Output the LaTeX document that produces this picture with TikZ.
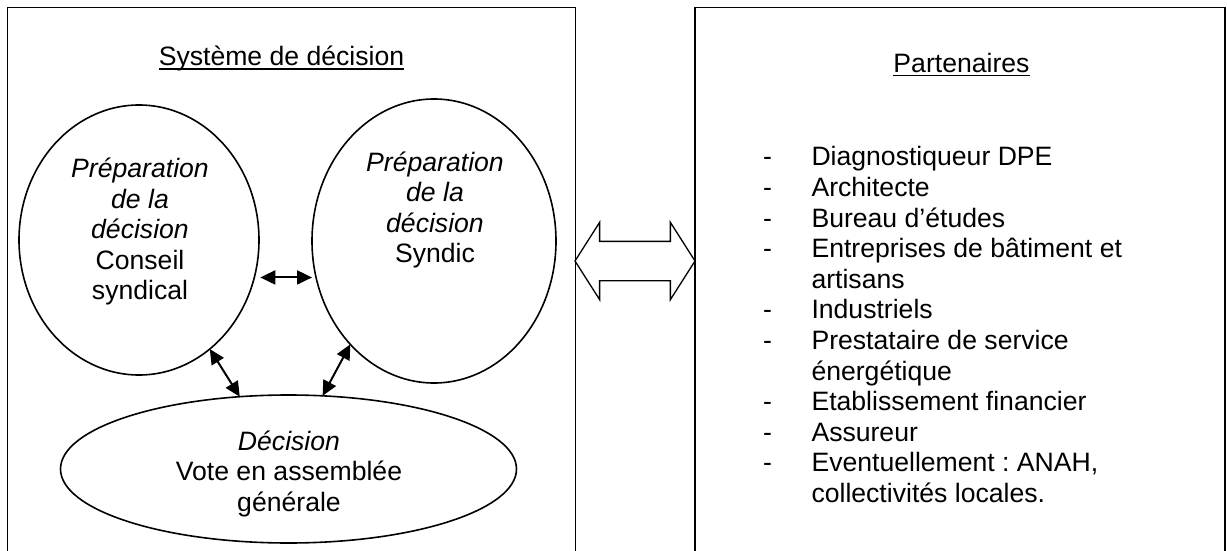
\documentclass[tikz,border=0pt]{standalone}
\usepackage{fontspec}
\setmainfont{Liberation Sans}
\usetikzlibrary{positioning,arrows.meta,shapes.geometric,shapes.arrows}

\newcommand\souligne[1]{\setbox0\hbox{#1}\rlap{\rule[-4pt]{\wd0}{1.5pt}}\box0}

\begin{document}
\frenchspacing
\begin{tikzpicture}[
  x=1pt, y=-1pt,
  font=\fontsize{26.6}{30.6}\selectfont,
  every node/.style={inner sep=0pt, outer sep=0pt},
  cadre/.style={rectangle, draw, line width=1.3pt, anchor=north west},
  bulle/.style={ellipse, draw, line width=1.6pt},
  texte/.style={align=center, anchor=base},
  item/.style ={align=left, anchor=base west},
  tiret/.style={anchor=base west},
  fleche/.style={{Triangle[length=15pt,width=14pt]}-{Triangle[length=15pt,width=14pt]}, line width=2pt},
  lien/.style={double arrow, draw, line width=1.3pt, inner ysep=19pt, inner xsep=0pt,
               double arrow head extend=19pt, double arrow tip angle=115,
               minimum height=120pt, minimum width=76pt},
]
\useasboundingbox (0,0) rectangle (1227,551);
\clip (0,0) rectangle (1227,551);

% Two frames, open at the bottom
\node[cadre, minimum width=568pt, minimum height=700pt] (systeme)     at (7.7,7.7) {};
\node[cadre, minimum width=530pt, minimum height=700pt] (partenaires) at (695,7.7) {};

\node[anchor=base] (titre)  at (281.5,66)   {\souligne{Système de décision}};
\node[anchor=base] (titrep) at (961.5,72.5) {\souligne{Partenaires}};

% Decision system (multi-line texts sit on their last baseline)
\node[bulle, minimum width=240pt, minimum height=270pt] (conseil) at (139,240)   {};
\node[bulle, minimum width=244pt, minimum height=284pt] (syndic)  at (434,241)   {};
\node[bulle, minimum width=456pt, minimum height=148pt] (vote)    at (288.5,469) {};

\node[texte] (tconseil) at (140,299.9) {\textit{Préparation}\\\textit{de la}\\\textit{décision}\\Conseil\\syndical};
\node[texte] (tsyndic)  at (435,262.8) {\textit{Préparation}\\\textit{de la}\\\textit{décision}\\Syndic};
\node[texte] (tvote)    at (289,511.2) {\textit{Décision}\\Vote en assemblée\\générale};

\draw[fleche] ([xshift=6pt]conseil.-18) -- (conseil.-18 -| syndic.west);
\draw[fleche] (conseil.-57) -- (vote.124);
\draw[fleche] (vote.65) -- (syndic.231);

% Exchange between the two frames
\node[lien] (echange) at (635,261) {};

% Partners list
\foreach \i/\j/\nom in {0/0/Diagnostiqueur DPE, 1/1/Architecte, 2/2/Bureau d’études,
    3/4/{Entreprises de bâtiment et\\artisans}, 5/5/Industriels,
    6/7/{Prestataire de service\\énergétique}, 8/8/Etablissement financier,
    9/9/Assureur, 10/11/{Eventuellement : ANAH,\\collectivités locales.}} {
  \node[tiret]       at (763,165.8+30.6*\i)   {-};
  \node[item] (p\i)  at (811.5,165.8+30.6*\j) {\nom};
}

\end{tikzpicture}
\end{document}
